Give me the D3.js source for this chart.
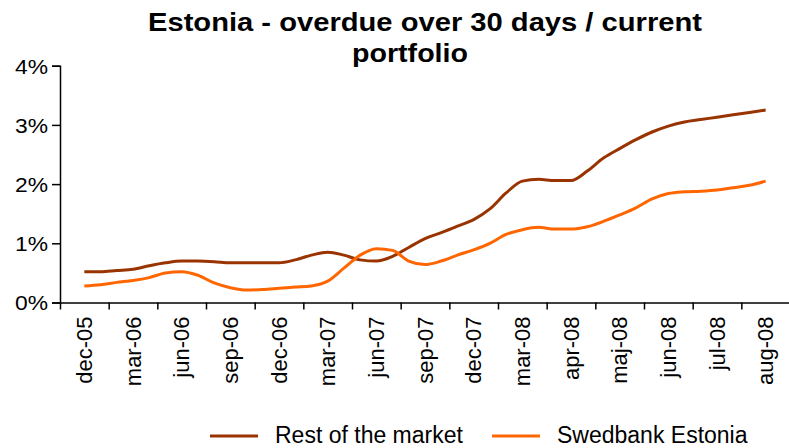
<!DOCTYPE html>
<html>
<head>
<meta charset="utf-8">
<script src="https://cdn.jsdelivr.net/npm/d3@7"></script>
<style>
  html, body { margin: 0; padding: 0; background: #ffffff; }
  svg { display: block; font-family: "Liberation Sans", Arial, sans-serif; }
</style>
</head>
<body>
<svg id="chart" width="789" height="448"></svg>
<script>
// ---- data ----
const tickLabels = ["dec-05","mar-06","jun-06","sep-06","dec-06","mar-07","jun-07","sep-07","dec-07","mar-08","apr-08","maj-08","jun-08","jul-08","aug-08"];
const yTicks = [0, 0.01, 0.02, 0.03, 0.04];
const seriesNames = ["Rest of the market", "Swedbank Estonia"];
const restOfMarket = [0.52,0.52,0.54,0.56,0.62,0.67,0.70,0.70,0.69,0.67,0.67,0.67,0.67,0.72,0.80,0.85,0.80,0.72,0.70,0.78,0.93,1.08,1.18,1.29,1.40,1.58,1.85,2.05,2.08,2.06,2.06,2.22,2.44,2.60,2.75,2.88,2.98,3.05,3.09,3.13,3.17,3.21,3.25];
const swedbankEstonia = [0.28,0.30,0.34,0.37,0.42,0.50,0.52,0.46,0.33,0.25,0.21,0.22,0.24,0.26,0.28,0.36,0.58,0.80,0.91,0.88,0.70,0.64,0.70,0.80,0.89,1.00,1.15,1.23,1.27,1.24,1.24,1.28,1.37,1.48,1.60,1.75,1.84,1.87,1.88,1.90,1.94,1.98,2.05];
const pointsPerLabel = 3;

// ---- layout ----
const svg = d3.select("#chart");
const plotLeft = 60, plotRight = 790, plotTop = 65.7, plotBottom = 302.5;
const colors = ["#993300", "#FF6600"];

const band = d3.scaleBand().domain(tickLabels).range([plotLeft, plotRight]).padding(0);
const n = restOfMarket.length;
const x = d3.scaleLinear().domain([-(pointsPerLabel/2), n - 1 + pointsPerLabel/2]).range([plotLeft, plotRight]);
const y = d3.scaleLinear().domain([0, 0.04]).range([plotBottom, plotTop]);

// y axis
const yAxis = d3.axisLeft(y).tickValues(yTicks).tickSize(8).tickFormat(d3.format(".0%"));
const gy = svg.append("g").attr("transform", `translate(${plotLeft},0)`).call(yAxis);
gy.select(".domain").attr("stroke", "#000").attr("stroke-width", 1.5);
gy.selectAll(".tick line").attr("stroke", "#000").attr("stroke-width", 1.5);
gy.selectAll(".tick text")
  .attr("x", -12)
  .attr("dy", "0.35em")
  .style("font-size", "21px")
  .attr("textLength", 33)
  .attr("lengthAdjust", "spacingAndGlyphs")
  .attr("fill", "#000");

// x axis (ticks at category boundaries)
const edges = d3.range(tickLabels.length + 1).map(i => plotLeft + i * band.bandwidth());
const xAxisScale = d3.scaleLinear().domain([plotLeft, plotRight]).range([plotLeft, plotRight]);
const xAxis = d3.axisBottom(xAxisScale).tickValues(edges).tickSize(7).tickFormat("").tickSizeOuter(0);
const gx = svg.append("g").attr("transform", `translate(0,${plotBottom})`).call(xAxis);
gx.select(".domain").attr("stroke", "#000").attr("stroke-width", 1.5);
gx.selectAll(".tick line").attr("stroke", "#000").attr("stroke-width", 1.5);

svg.append("g").selectAll("text").data(tickLabels).join("text")
  .attr("transform", d => `translate(${band(d) + band.bandwidth()/2},${plotBottom + 14}) rotate(-90)`)
  .attr("text-anchor", "end")
  .attr("dy", "0.35em")
  .style("font-size", "22px")
  .attr("fill", "#000")
  .text(d => d);

// lines
const line = d3.line()
  .x((d, i) => x(i))
  .y(d => y(d / 100))
  .curve(d3.curveMonotoneX);

[restOfMarket, swedbankEstonia].forEach((s, k) => {
  svg.append("path")
    .datum(s)
    .attr("fill", "none")
    .attr("stroke", colors[k])
    .attr("stroke-width", 3)
    .attr("stroke-linejoin", "round")
    .attr("d", line);
});

// title
const title = svg.append("g")
  .attr("fill", "#000")
  .style("font-size", "26px")
  .style("font-weight", "bold");
title.append("text").attr("x", 148).attr("y", 31)
  .attr("textLength", 554).attr("lengthAdjust", "spacingAndGlyphs")
  .text("Estonia - overdue over 30 days / current");
title.append("text").attr("x", 352).attr("y", 62)
  .attr("textLength", 116).attr("lengthAdjust", "spacingAndGlyphs")
  .text("portfolio");

// legend
const legendX = [210, 492];
const lg = svg.append("g");
seriesNames.forEach((name, k) => {
  lg.append("line")
    .attr("x1", legendX[k]).attr("x2", legendX[k] + 48)
    .attr("y1", 436).attr("y2", 436)
    .attr("stroke", colors[k]).attr("stroke-width", 3);
  lg.append("text")
    .attr("x", legendX[k] + 65).attr("y", 443)
    .style("font-size", "23px")
    .attr("fill", "#000")
    .text(name);
});
</script>
</body>
</html>
